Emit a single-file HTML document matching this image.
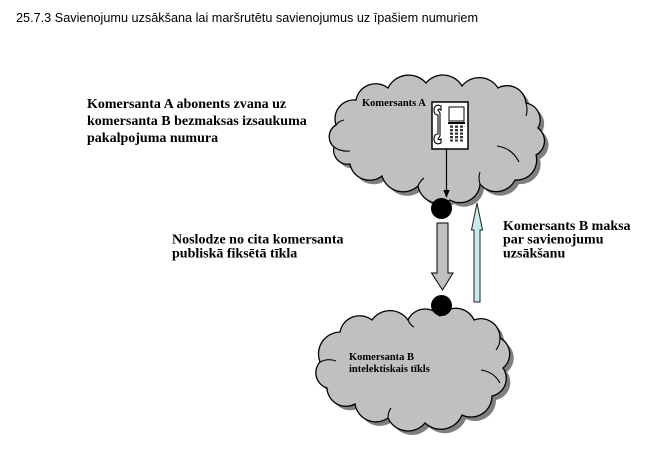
<!DOCTYPE html>
<html>
<head>
<meta charset="utf-8">
<style>
  html,body{margin:0;padding:0;background:#fff;}
  svg{display:block;}
  .t{font-family:"Liberation Serif","DejaVu Serif",serif;font-weight:bold;fill:#000;}
</style>
</head>
<body>
<svg width="645" height="464" viewBox="0 0 645 464" xmlns="http://www.w3.org/2000/svg">
  <rect x="0" y="0" width="645" height="464" fill="#fff"/>

  <text x="16" y="22" font-family="Liberation Sans, Arial, sans-serif" font-size="12.6" textLength="462" lengthAdjust="spacingAndGlyphs" fill="#000">25.7.3 Savienojumu uzsākšana lai maršrutētu savienojumus uz īpašiem numuriem</text>

  <!-- Top cloud -->
  <g>
    <path transform="translate(4,4)" fill="#7f7f7f" d="M336,125 A19,19 0 0 1 356,100 A20,20 0 0 1 388,88 A23,23 0 0 1 426,83 A22,22 0 0 1 462,86 A22,22 0 0 1 498,88 A19,19 0 0 1 526,103 A17,17 0 0 1 538,128 A16,16 0 0 1 536,155 A20,20 0 0 1 515,180 A21,21 0 0 1 480,184 A20,20 0 0 1 450,200 A21,21 0 0 1 418,186 A22,22 0 0 1 382,176 A20,20 0 0 1 350,164 A14,14 0 0 1 334,147 A13.5,13.5 0 0 1 336,125 Z"/>
    <path fill="#c0c0c0" stroke="#000" stroke-width="1.3" d="M336,125 A19,19 0 0 1 356,100 A20,20 0 0 1 388,88 A23,23 0 0 1 426,83 A22,22 0 0 1 462,86 A22,22 0 0 1 498,88 A19,19 0 0 1 526,103 A17,17 0 0 1 538,128 A16,16 0 0 1 536,155 A20,20 0 0 1 515,180 A21,21 0 0 1 480,184 A20,20 0 0 1 450,200 A21,21 0 0 1 418,186 A22,22 0 0 1 382,176 A20,20 0 0 1 350,164 A14,14 0 0 1 334,147 A13.5,13.5 0 0 1 336,125 Z"/>
    <path fill="none" stroke="#000" stroke-width="1.1" d="M334,147 Q341,152 350,151"/>
    <path fill="none" stroke="#000" stroke-width="1.1" d="M336,125 Q339,121 344,120"/>
    <path fill="none" stroke="#000" stroke-width="1.1" d="M497,146 Q512,148 519,162"/>
    <path fill="none" stroke="#000" stroke-width="1.1" d="M526,103 Q528,110 526,116"/>
    <path fill="none" stroke="#000" stroke-width="1.1" d="M480,184 Q478,178 480,172"/>
    <path fill="none" stroke="#000" stroke-width="1.1" d="M418,186 Q420,181 424,178"/>
  </g>

  <text class="t" x="362" y="106" font-size="10.5">Komersants A</text>

  <!-- Phone -->
  <g>
    <rect x="432" y="102" width="36" height="47" fill="#fff" stroke="#000" stroke-width="1.5"/>
    <path d="M441,106 C437,104 434,106 434,110 C434,114 436,115 438,115 L438,134 C436,134 434,135 434,139 C434,143 437,145 441,143 L441,139 C439,140 438,139.5 438,139 L440,136 L440,113 L438,110 C438,109 439,108.5 441,110 Z" fill="#fff" stroke="#000" stroke-width="1.1"/>
    <rect x="449" y="107" width="15" height="14" fill="#fff" stroke="#000" stroke-width="1"/>
    <rect x="448" y="122" width="17" height="2" fill="#000"/>
    <g fill="#333">
      <rect x="450" y="125.5" width="3" height="2.3"/><rect x="455" y="125.5" width="3" height="2.3"/><rect x="460" y="125.5" width="3" height="2.3"/>
      <rect x="450" y="129" width="3" height="2.3"/><rect x="455" y="129" width="3" height="2.3"/><rect x="460" y="129" width="3" height="2.3"/>
      <rect x="450" y="132.5" width="3" height="2.3"/><rect x="455" y="132.5" width="3" height="2.3"/><rect x="460" y="132.5" width="3" height="2.3"/>
      <rect x="450" y="136" width="3" height="2.3"/><rect x="455" y="136" width="3" height="2.3"/><rect x="460" y="136" width="3" height="2.3"/>
      <rect x="450" y="139.5" width="3" height="2"/><rect x="455" y="139.5" width="3" height="2"/><rect x="460" y="139.5" width="3" height="2"/>
    </g>
  </g>

  <!-- thin arrow -->
  <line x1="446.5" y1="149" x2="446.5" y2="192" stroke="#000" stroke-width="1.2"/>
  <polygon points="443.3,190 449.7,190 446.5,198" fill="#000"/>

  <!-- Bottom cloud -->
  <g>
    <path transform="translate(4,4)" fill="#7f7f7f" d="M320,362 A22,22 0 0 1 340,332 A20,20 0 0 1 372,320 A22,22 0 0 1 408,320 A19,19 0 0 1 440,316 A20,20 0 0 1 474,320 A19,19 0 0 1 500,338 A18,18 0 0 1 503,368 A18,18 0 0 1 492,396 A21,21 0 0 1 462,415 A23,23 0 0 1 425,423 A22,22 0 0 1 388,418 A21,21 0 0 1 355,404 A19,19 0 0 1 327,388 A16,16 0 0 1 320,362 Z"/>
    <path fill="#c0c0c0" stroke="#000" stroke-width="1.3" d="M320,362 A22,22 0 0 1 340,332 A20,20 0 0 1 372,320 A22,22 0 0 1 408,320 A19,19 0 0 1 440,316 A20,20 0 0 1 474,320 A19,19 0 0 1 500,338 A18,18 0 0 1 503,368 A18,18 0 0 1 492,396 A21,21 0 0 1 462,415 A23,23 0 0 1 425,423 A22,22 0 0 1 388,418 A21,21 0 0 1 355,404 A19,19 0 0 1 327,388 A16,16 0 0 1 320,362 Z"/>
    <path fill="none" stroke="#000" stroke-width="1.1" d="M320,362 Q328,358 336,361"/>
    <path fill="none" stroke="#000" stroke-width="1.1" d="M481,370 Q494,372 500,383"/>
    <path fill="none" stroke="#000" stroke-width="1.1" d="M500,338 Q500,345 496,350"/>
    <path fill="none" stroke="#000" stroke-width="1.1" d="M408,320 Q410,325 414,327"/>
    <path fill="none" stroke="#000" stroke-width="1.1" d="M388,418 Q388,412 391,408"/>
  </g>

  <text class="t" x="349" y="360" font-size="10.5">Komersanta B</text>
  <text class="t" x="349" y="372" font-size="10.5">intelektiskais tīkls</text>

  <!-- dots -->
  <circle cx="441.5" cy="208.5" r="10.5" fill="#000"/>
  <circle cx="441.5" cy="305.5" r="10.5" fill="#000"/>

  <!-- gray block arrow down -->
  <polygon points="437,223 448,223 448,273 453,273 442.5,290 431.5,273 437,273" fill="#c0c0c0" stroke="#000" stroke-width="1"/>

  <!-- cyan arrow up -->
  <polygon points="477,203 482.5,230 480,230 480,302 474,302 474,230 471.5,230" fill="#c9eaea" stroke="#222" stroke-width="1"/>

  <!-- texts -->
  <text class="t" x="87" y="108" font-size="14">Komersanta A abonents zvana uz</text>
  <text class="t" x="87" y="125" font-size="14">komersanta B bezmaksas izsaukuma</text>
  <text class="t" x="87" y="142" font-size="14">pakalpojuma numura</text>

  <text class="t" x="172" y="243.3" font-size="14">Noslodze no cita komersanta</text>
  <text class="t" x="172" y="257.3" font-size="14">publiskā fiksētā tīkla</text>

  <text class="t" x="503" y="230" font-size="14">Komersants B maksa</text>
  <text class="t" x="503" y="243.7" font-size="14">par savienojumu</text>
  <text class="t" x="503" y="257.5" font-size="14">uzsākšanu</text>
</svg>
</body>
</html>
